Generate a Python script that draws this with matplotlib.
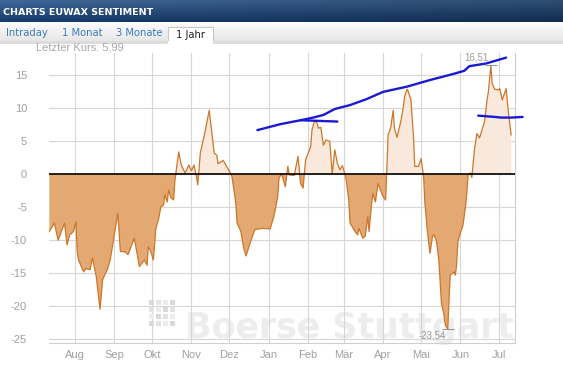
import numpy as np
import pandas as pd
import matplotlib
matplotlib.use("Agg")
import matplotlib.pyplot as plt
from matplotlib.patches import Rectangle

# EUWAX sentiment, one year
sent_dates = [
    "2012-07-12", "2012-07-16", "2012-07-19", "2012-07-24", "2012-07-26", "2012-07-28", "2012-07-31",
    "2012-08-02", "2012-08-03", "2012-08-04", "2012-08-08", "2012-08-10", "2012-08-13", "2012-08-15",
    "2012-08-18", "2012-08-21", "2012-08-23", "2012-08-27", "2012-08-29",
    "2012-09-01", "2012-09-04", "2012-09-06", "2012-09-10", "2012-09-12", "2012-09-17", "2012-09-21",
    "2012-09-23", "2012-09-25", "2012-09-27", "2012-09-28", "2012-09-30",
    "2012-10-02", "2012-10-04", "2012-10-06", "2012-10-08", "2012-10-10", "2012-10-11", "2012-10-13",
    "2012-10-14", "2012-10-16", "2012-10-18", "2012-10-19", "2012-10-22", "2012-10-24", "2012-10-27",
    "2012-10-30",
    "2012-11-01", "2012-11-03", "2012-11-05", "2012-11-06", "2012-11-08", "2012-11-12", "2012-11-15",
    "2012-11-19", "2012-11-21", "2012-11-22", "2012-11-26",
    "2012-12-02", "2012-12-03", "2012-12-06", "2012-12-07", "2012-12-10", "2012-12-12", "2012-12-14",
    "2012-12-18", "2012-12-21", "2012-12-27",
    "2013-01-02", "2013-01-05", "2013-01-08", "2013-01-09", "2013-01-11", "2013-01-14", "2013-01-16",
    "2013-01-17", "2013-01-21", "2013-01-24", "2013-01-26", "2013-01-28", "2013-01-30",
    "2013-02-03", "2013-02-04", "2013-02-06", "2013-02-08", "2013-02-09", "2013-02-11", "2013-02-13",
    "2013-02-15", "2013-02-18", "2013-02-20", "2013-02-22", "2013-02-24", "2013-02-26", "2013-02-28",
    "2013-03-02", "2013-03-03", "2013-03-05", "2013-03-06", "2013-03-10", "2013-03-12", "2013-03-13",
    "2013-03-16", "2013-03-18", "2013-03-20", "2013-03-21", "2013-03-23", "2013-03-24", "2013-03-26",
    "2013-03-28", "2013-03-30",
    "2013-04-01", "2013-04-03", "2013-04-04", "2013-04-05", "2013-04-07", "2013-04-09", "2013-04-10",
    "2013-04-12", "2013-04-15", "2013-04-17", "2013-04-18", "2013-04-20", "2013-04-21", "2013-04-23",
    "2013-04-25", "2013-04-26", "2013-04-29",
    "2013-05-01", "2013-05-03", "2013-05-04", "2013-05-06", "2013-05-08", "2013-05-10", "2013-05-11",
    "2013-05-13", "2013-05-15", "2013-05-17", "2013-05-19", "2013-05-20", "2013-05-22", "2013-05-23",
    "2013-05-24", "2013-05-27", "2013-05-28", "2013-05-29", "2013-05-30",
    "2013-06-01", "2013-06-03", "2013-06-05", "2013-06-06", "2013-06-07", "2013-06-09", "2013-06-10",
    "2013-06-12", "2013-06-14", "2013-06-16", "2013-06-18", "2013-06-20", "2013-06-22", "2013-06-23",
    "2013-06-25", "2013-06-26", "2013-06-28",
    "2013-07-01", "2013-07-02", "2013-07-04", "2013-07-07", "2013-07-09", "2013-07-11",
]
sent_values = [
    -8.7, -7.4, -10.0, -7.4, -10.7, -9.2, -8.7,
    -7.2, -11.7, -13.0, -14.8, -14.3, -14.5, -12.7, -15.5, -20.5, -16.0, -14.3, -13.0,
    -9.5, -5.9, -11.7, -11.8, -12.2, -9.7, -14.0, -13.5, -13.0, -13.8, -11.0, -11.7,
    -13.0, -8.2, -6.9, -4.9, -4.7, -3.1, -4.2, -2.4, -3.6, -3.9, -0.9, 3.4, 1.4, 0.2, 1.4,
    0.5, 1.4, -0.4, -1.6, 3.2, 6.7, 9.7, 3.2, 2.9, 1.6, 2.1,
    0.1, -0.4, -4.4, -7.4, -8.7, -11.0, -12.4, -10.0, -8.4, -8.2,
    -8.3, -6.4, -3.4, -0.6, 0.1, -1.9, 1.2, -0.1, -0.2, 2.7, -1.4, -2.1, 2.2,
    4.2, 6.7, 8.1, 7.8, 7.0, 7.1, 4.4, 5.2, 5.0, 0.1, 3.7, 1.7, 0.7, 1.3,
    0.0, -0.9, -3.9, -7.4, -8.7, -9.2, -8.2, -9.7, -9.4, -6.4, -8.7, -4.4, -2.9, -4.2, -1.4, -2.4,
    -3.4, -3.9, 0.7, 6.0, 7.0, 9.7, 7.0, 5.6, 8.0, 10.2, 11.8, 12.9, 12.5, 11.3, 5.7, 1.2, 1.2,
    2.4, -0.5, -4.4, -8.7, -12.0, -9.4, -9.2, -10.0, -13.0, -19.5, -21.3, -22.8, -23.54, -19.0,
    -15.3, -14.8, -15.3, -13.7, -10.2,
    -8.9, -7.7, -4.9, -2.9, -0.2, 0.2, -0.5, 3.7, 6.2, 5.5, 6.7, 8.0, 11.3, 12.5, 16.51, 13.8, 12.9,
    12.8, 13.0, 11.3, 13.0, 9.0, 5.99,
]

# drawn trend lines (blue)
trend_a_dates = ["2012-12-23", "2013-01-10", "2013-01-26", "2013-02-05", "2013-02-13", "2013-02-22",
                 "2013-03-06", "2013-03-19", "2013-04-01", "2013-04-20", "2013-05-08", "2013-05-26",
                 "2013-06-04", "2013-06-08", "2013-06-21", "2013-07-07"]
trend_a_values = [6.7, 7.6, 8.2, 8.6, 9.0, 9.9, 10.5, 11.4, 12.5, 13.3, 14.3, 15.2, 15.7, 16.4, 16.8, 17.7]
trend_b_dates = ["2013-01-26", "2013-02-09", "2013-02-24"]
trend_b_values = [8.2, 8.1, 8.0]
trend_c_dates = ["2013-06-15", "2013-06-28", "2013-07-03", "2013-07-11", "2013-07-20"]
trend_c_values = [8.9, 8.7, 8.6, 8.6, 8.7]

month_ticks = ["2012-08-01", "2012-09-01", "2012-10-01", "2012-11-01", "2012-12-01", "2013-01-01",
               "2013-02-01", "2013-03-01", "2013-04-01", "2013-05-01", "2013-06-01", "2013-07-01"]
month_labels = ["Aug", "Sep", "Okt", "Nov", "Dez", "Jan", "Feb", "Mär", "Apr", "Mai", "Jun", "Jul"]
y_ticks = [15, 10, 5, 0, -5, -10, -15, -20, -25]
tabs = ["Intraday", "1 Monat", "3 Monate"]

plt.rcParams['font.family'] = ['Liberation Sans', 'DejaVu Sans']

W, H = 563, 370
fig = plt.figure(figsize=(W / 100, H / 100), dpi=100)
fig.patch.set_facecolor('white')

# ---- header bar
hdr = fig.add_axes([0, 1 - 22 / H, 1, 22 / H])
gy = np.linspace(0, 1, 20)[:, None]
gx = np.linspace(0, 1, 200)[None, :]
top = np.array([62, 104, 152]) / 255
bot = np.array([22, 58, 108]) / 255
grad = top * (1 - gy[..., None]) + bot * gy[..., None]
grad = grad * (1 - 0.25 * gx[..., None])
hdr.imshow(np.broadcast_to(grad, (20, 200, 3)), aspect='auto', extent=[0, 1, 0, 1])
hdr.axis('off')
hdr.text(0.006, 0.45, "CHARTS EUWAX SENTIMENT", color='white', fontsize=6.8, weight='bold',
         family='DejaVu Sans', va='center', ha='left')

# ---- tab row
tabax = fig.add_axes([0, 1 - 41 / H, 1, 19 / H])
tg = np.linspace(0.99, 0.90, 20)[:, None] * np.ones((1, 10))
tabax.imshow(tg, cmap='gray', vmin=0, vmax=1, aspect='auto', extent=[0, W, 0, 19])
tabax.set_xlim(0, W)
tabax.set_ylim(0, 19)
tabax.axis('off')
for lbl, x0 in zip(tabs, [6, 62, 116]):
    tabax.text(x0, 7.5, lbl, color='#3b7bbd', fontsize=7.2, family='DejaVu Sans', va='center')
tabax.add_patch(Rectangle((168, -1), 45, 15, facecolor='white', edgecolor='#c8c8c8', lw=0.8))
tabax.text(176, 6.5, "1 Jahr", color='#222222', fontsize=7.2, family='DejaVu Sans', va='center')

# gray strip below tabs
fig.patches.append(Rectangle((0, 1 - 44 / H), 168 / W, 3 / H, transform=fig.transFigure,
                             facecolor='#dcdcdc', edgecolor='none'))
fig.patches.append(Rectangle((213 / W, 1 - 44 / H), 1, 3 / H, transform=fig.transFigure,
                             facecolor='#dcdcdc', edgecolor='none'))

fig.text(36 / W, 1 - 48 / H, "Letzter Kurs: 5,99", color='#a8a8a8', fontsize=8, va='center')

# ---- main chart
ax = fig.add_axes([49.3 / W, 1 - 343 / H, (515 - 49.3) / W, (343 - 53) / H])
ax.patch.set_alpha(0)

d = pd.to_datetime(sent_dates)
v = np.array(sent_values)

ax.fill_between(d, v, 0, where=v <= 0, interpolate=True, color='#e4a972', lw=0, zorder=1)
ax.fill_between(d, v, 0, where=v >= 0, interpolate=True, color='#f9e9dc', lw=0, zorder=1)
ax.plot(d, v, color='#cc7628', lw=0.9, zorder=2)
ax.axhline(0, color='black', lw=1.2, zorder=3)

blue = '#1a1ad2'
for td, tv in [(trend_a_dates, trend_a_values), (trend_b_dates, trend_b_values),
               (trend_c_dates, trend_c_values)]:
    ax.plot(pd.to_datetime(td), tv, color=blue, lw=1.7, zorder=4, clip_on=False,
            solid_capstyle='round')

# max / min markers
imax, imin = int(np.argmax(v)), int(np.argmin(v))
for i, off in [(imax, (-2, 6)), (imin, (-1, -4.5))]:
    ax.plot(d[i], v[i], marker='_', ms=8, mew=0.8, color='#9a9a9a', zorder=5)
    ax.annotate(f"{v[i]:.2f}".replace('.', ','), xy=(d[i], v[i]), xytext=off,
                textcoords='offset points', ha='right', va='center', fontsize=7, color='#9a9a9a',
                zorder=5)

ax.set_xlim(pd.Timestamp("2012-07-12"), pd.Timestamp("2013-07-14"))
ax.set_ylim(-25.6, 18.4)
ax.set_xticks(pd.to_datetime(month_ticks))
ax.set_xticklabels(month_labels)
ax.set_yticks(y_ticks)
ax.set_yticklabels([str(t) for t in y_ticks])
ax.tick_params(length=0, labelsize=8, labelcolor='#a0a0a0')
ax.tick_params(axis='y', pad=16)
ax.tick_params(axis='x', pad=5)
ax.grid(True, color='#d6d6d6', lw=0.8)
ax.set_axisbelow(True)
for s in ['left', 'top']:
    ax.spines[s].set_visible(False)
for s in ['bottom', 'right']:
    ax.spines[s].set_color('#cfcfcf')
    ax.spines[s].set_linewidth(0.8)

# watermark (background logo)
ax.text(0.292, 0.018, "Boerse Stuttgart", transform=ax.transAxes, fontsize=25, weight='bold',
        family='DejaVu Sans', color='#ededed', ha='left', va='baseline', zorder=0.4)
for r in range(4):
    for c in range(4):
        shade = ['#d9d9d9', '#e3e3e3', '#ececec'][(r + c) % 3]
        fig.patches.append(Rectangle(((149 + 7 * c) / W, 1 - (305 + 7 * r) / H), 5 / W, 5 / H,
                                     transform=fig.transFigure, facecolor=shade,
                                     edgecolor='none', zorder=0))

fig.savefig("out.png", dpi=100)
